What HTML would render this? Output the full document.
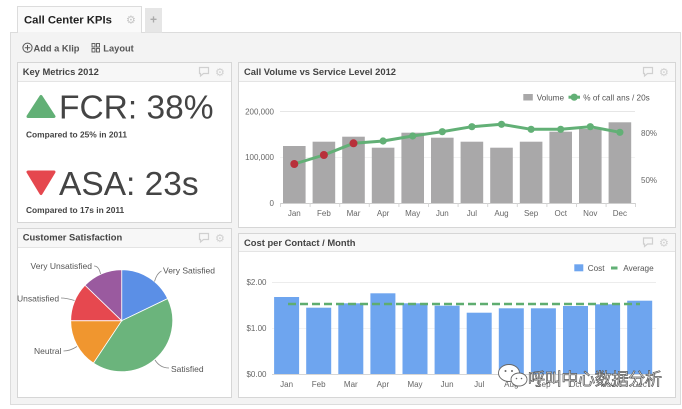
<!DOCTYPE html>
<html>
<head>
<meta charset="utf-8">
<style>
html,body{margin:0;padding:0;background:#fff;}
svg{display:block;}
text{font-family:"Liberation Sans",sans-serif;}
</style>
</head>
<body>
<svg width="682" height="409" viewBox="0 0 682 409" xmlns="http://www.w3.org/2000/svg">
  <rect x="0" y="0" width="682" height="409" fill="#ffffff"/>
  <!-- container -->
  <rect x="10.5" y="32.5" width="670" height="372" fill="#f3f3f3" stroke="#dcdcdc"/>
  <!-- tab -->
  <path d="M17.5 33 V6.5 H141.5 V33" fill="#fafafa" stroke="#dcdcdc"/>
  <rect x="18" y="32" width="123" height="2" fill="#f3f3f3"/>
  <text x="24" y="23.3" font-size="11.3" font-weight="bold" fill="#222">Call Center KPIs</text>
  <text x="126" y="23.5" font-size="11" fill="#c4c4c4" style="font-family:'DejaVu Sans',sans-serif">⚙</text>
  <rect x="145" y="8" width="17" height="24.5" fill="#e6e6e6"/>
  <text x="153.5" y="23.5" font-size="12" fill="#aaa" text-anchor="middle" font-weight="bold">+</text>

  <!-- toolbar -->
  <circle cx="27.5" cy="47.7" r="4.6" fill="none" stroke="#555" stroke-width="1"/>
  <path d="M27.5 45 V50.4 M24.8 47.7 H30.2" stroke="#555" stroke-width="1"/>
  <text x="33.5" y="51.5" font-size="9.3" font-weight="bold" fill="#555">Add a Klip</text>
  <g fill="none" stroke="#555" stroke-width="0.9">
    <rect x="92" y="43.5" width="3" height="3.5"/><rect x="96.5" y="43.5" width="3" height="3.5"/>
    <rect x="92" y="48.5" width="3" height="3.5"/><rect x="96.5" y="48.5" width="3" height="3.5"/>
  </g>
  <text x="103.3" y="51.5" font-size="9.3" font-weight="bold" fill="#555">Layout</text>

  <!-- ===== Panel: Key Metrics ===== -->
  <rect x="17.5" y="62.5" width="214" height="160" fill="#fff" stroke="#d6d6d6"/>
  <rect x="18" y="63" width="213" height="18" fill="#f7f7f7"/>
  <line x1="18" y1="81.5" x2="231" y2="81.5" stroke="#e4e4e4"/>
  <text x="22.7" y="75" font-size="9.4" font-weight="bold" fill="#444">Key Metrics 2012</text>
  <g fill="none" stroke="#d0d0d0" stroke-width="1.2">
    <path d="M199.5 67.5 h9 v6 h-5 l-3 2.5 v-2.5 h-1 z"/>
  </g>
  <text x="215" y="76" font-size="11" fill="#d0d0d0" style="font-family:'DejaVu Sans',sans-serif">⚙</text>

  <polygon points="41,96.5 54,116.5 28,116.5" fill="#62b076" stroke="#62b076" stroke-width="3" stroke-linejoin="round"/>
  <text x="59" y="118.5" font-size="33.5" fill="#444">FCR: 38%</text>
  <text x="26" y="137.5" font-size="8.4" font-weight="bold" fill="#444">Compared to 25% in 2011</text>

  <polygon points="28,172 54,172 41,193.5" fill="#e5474e" stroke="#e5474e" stroke-width="3" stroke-linejoin="round"/>
  <text x="59" y="195" font-size="33.5" fill="#444">ASA: 23s</text>
  <text x="26" y="213" font-size="8.4" font-weight="bold" fill="#444">Compared to 17s in 2011</text>

  <!-- ===== Panel: Customer Satisfaction ===== -->
  <rect x="17.5" y="228.5" width="214" height="169" fill="#fff" stroke="#d6d6d6"/>
  <rect x="18" y="229" width="213" height="18" fill="#f7f7f7"/>
  <line x1="18" y1="247.5" x2="231" y2="247.5" stroke="#e4e4e4"/>
  <text x="22.7" y="240.5" font-size="9.4" font-weight="bold" fill="#444">Customer Satisfaction</text>
  <g fill="none" stroke="#d0d0d0" stroke-width="1.2">
    <path d="M199.5 233.5 h9 v6 h-5 l-3 2.5 v-2.5 h-1 z"/>
  </g>
  <text x="215" y="242" font-size="11" fill="#d0d0d0" style="font-family:'DejaVu Sans',sans-serif">⚙</text>

  <g stroke="#fff" stroke-width="0.8">
    <path d="M121.7 320.7 L121.7 269.7 A51 51 0 0 1 167.66 298.58 Z" fill="#5b8fe6"/>
    <path d="M121.7 320.7 L167.66 298.58 A51 51 0 0 1 93.41 363.13 Z" fill="#6bb47c"/>
    <path d="M121.7 320.7 L93.41 363.13 A51 51 0 0 1 70.7 320.7 Z" fill="#f0962f"/>
    <path d="M121.7 320.7 L70.7 320.7 A51 51 0 0 1 85.01 285.27 Z" fill="#e6484f"/>
    <path d="M121.7 320.7 L85.01 285.27 A51 51 0 0 1 121.7 269.7 Z" fill="#9a5a9f"/>
  </g>
  <g fill="none" stroke="#888" stroke-width="0.8">
    <path d="M154.5 281.5 Q157 273 161.5 271"/>
    <path d="M94 266 Q99 266 100.5 274"/>
    <path d="M61 298 Q66 298 74.5 300.5"/>
    <path d="M63.5 351 Q70 351 77 346.5"/>
    <path d="M155 360 Q160 368 169 368"/>
  </g>
  <g font-size="8.5" fill="#555">
    <text x="163" y="273.5">Very Satisfied</text>
    <text x="30.5" y="269">Very Unsatisfied</text>
    <text x="17" y="301.5">Unsatisfied</text>
    <text x="34" y="354">Neutral</text>
    <text x="171" y="372">Satisfied</text>
  </g>

  <!-- ===== Panel: Call Volume ===== -->
  <rect x="238.5" y="62.5" width="437" height="165" fill="#fff" stroke="#d6d6d6"/>
  <rect x="239" y="63" width="436" height="18" fill="#f7f7f7"/>
  <line x1="239" y1="81.5" x2="675" y2="81.5" stroke="#e4e4e4"/>
  <text x="244" y="75" font-size="9.4" font-weight="bold" fill="#444">Call Volume vs Service Level 2012</text>
  <g fill="none" stroke="#d0d0d0" stroke-width="1.2">
    <path d="M643.5 67.5 h9 v6 h-5 l-3 2.5 v-2.5 h-1 z"/>
  </g>
  <text x="659" y="76" font-size="11" fill="#d0d0d0" style="font-family:'DejaVu Sans',sans-serif">⚙</text>

  <!-- legend -->
  <rect x="523.3" y="94" width="9.5" height="6.5" fill="#a9a8a9"/>
  <text x="536.7" y="100.3" font-size="8.2" fill="#555">Volume</text>
  <line x1="568.5" y1="97.2" x2="580" y2="97.2" stroke="#62b076" stroke-width="3"/>
  <circle cx="574.2" cy="97.2" r="3.6" fill="#62b076"/>
  <text x="583.3" y="100.3" font-size="8.2" fill="#555">% of call ans / 20s</text>

  <!-- grid / axes -->
  <line x1="280" y1="111.5" x2="635" y2="111.5" stroke="#e6e6e6"/>
  <line x1="280" y1="157.5" x2="635" y2="157.5" stroke="#f3f3f3"/>
  <line x1="280" y1="203.5" x2="635" y2="203.5" stroke="#cfcfcf"/>
  <g stroke="#d6d6d6">
    <line x1="280.5" y1="203" x2="280.5" y2="207"/><line x1="310.1" y1="203" x2="310.1" y2="207"/>
    <line x1="339.7" y1="203" x2="339.7" y2="207"/><line x1="369.3" y1="203" x2="369.3" y2="207"/>
    <line x1="398.9" y1="203" x2="398.9" y2="207"/><line x1="428.5" y1="203" x2="428.5" y2="207"/>
    <line x1="458.1" y1="203" x2="458.1" y2="207"/><line x1="487.7" y1="203" x2="487.7" y2="207"/>
    <line x1="517.3" y1="203" x2="517.3" y2="207"/><line x1="546.9" y1="203" x2="546.9" y2="207"/>
    <line x1="576.5" y1="203" x2="576.5" y2="207"/><line x1="606.1" y1="203" x2="606.1" y2="207"/>
    <line x1="635.5" y1="203" x2="635.5" y2="207"/>
  </g>
  <g font-size="8" fill="#666" text-anchor="end">
    <text x="274" y="114.5">200,000</text>
    <text x="274" y="160">100,000</text>
    <text x="274" y="206">0</text>
  </g>
  <g font-size="8" fill="#666">
    <text x="641" y="136">80%</text>
    <text x="641" y="183">50%</text>
  </g>
  <!-- bars -->
  <g fill="#a9a8a9">
    <rect x="283" y="146" width="22.6" height="57"/>
    <rect x="312.6" y="141.7" width="22.6" height="61.3"/>
    <rect x="342.2" y="136.7" width="22.6" height="66.3"/>
    <rect x="371.8" y="147.7" width="22.6" height="55.3"/>
    <rect x="401.4" y="132.7" width="22.6" height="70.3"/>
    <rect x="431" y="137.7" width="22.6" height="65.3"/>
    <rect x="460.6" y="141.7" width="22.6" height="61.3"/>
    <rect x="490.2" y="147.7" width="22.6" height="55.3"/>
    <rect x="519.8" y="141.7" width="22.6" height="61.3"/>
    <rect x="549.4" y="131.7" width="22.6" height="71.3"/>
    <rect x="579" y="129" width="22.6" height="74"/>
    <rect x="608.6" y="122.3" width="22.6" height="80.7"/>
  </g>
  <!-- line -->
  <polyline points="294.3,164 323.9,155 353.5,143.3 383.1,141 412.7,136 442.3,131.7 471.9,126.7 501.5,124.3 531.1,129.3 560.7,129.3 590.3,126.7 619.9,132.3" fill="none" stroke="#62b076" stroke-width="3" stroke-linejoin="round"/>
  <g fill="#62b076">
    <circle cx="383.1" cy="141" r="3.6"/><circle cx="412.7" cy="136" r="3.6"/>
    <circle cx="442.3" cy="131.7" r="3.6"/><circle cx="471.9" cy="126.7" r="3.6"/>
    <circle cx="501.5" cy="124.3" r="3.6"/><circle cx="531.1" cy="129.3" r="3.6"/>
    <circle cx="560.7" cy="129.3" r="3.6"/><circle cx="590.3" cy="126.7" r="3.6"/>
    <circle cx="619.9" cy="132.3" r="3.6"/>
  </g>
  <g fill="#b8313b">
    <circle cx="294.3" cy="164" r="4"/><circle cx="323.9" cy="155" r="4"/><circle cx="353.5" cy="143.3" r="4"/>
  </g>
  <g font-size="8" fill="#666" text-anchor="middle">
    <text x="294.3" y="216">Jan</text><text x="323.9" y="216">Feb</text><text x="353.5" y="216">Mar</text>
    <text x="383.1" y="216">Apr</text><text x="412.7" y="216">May</text><text x="442.3" y="216">Jun</text>
    <text x="471.9" y="216">Jul</text><text x="501.5" y="216">Aug</text><text x="531.1" y="216">Sep</text>
    <text x="560.7" y="216">Oct</text><text x="590.3" y="216">Nov</text><text x="619.9" y="216">Dec</text>
  </g>

  <!-- ===== Panel: Cost per Contact ===== -->
  <rect x="238.5" y="233.5" width="437" height="164" fill="#fff" stroke="#d6d6d6"/>
  <rect x="239" y="234" width="436" height="17" fill="#f7f7f7"/>
  <line x1="239" y1="251.5" x2="675" y2="251.5" stroke="#e4e4e4"/>
  <text x="244" y="246" font-size="9.4" font-weight="bold" fill="#444">Cost per Contact / Month</text>
  <g fill="none" stroke="#d0d0d0" stroke-width="1.2">
    <path d="M643.5 238 h9 v6 h-5 l-3 2.5 v-2.5 h-1 z"/>
  </g>
  <text x="659" y="246.5" font-size="11" fill="#d0d0d0" style="font-family:'DejaVu Sans',sans-serif">⚙</text>

  <rect x="574.3" y="264.3" width="9" height="7" fill="#6ea5ef"/>
  <text x="587.7" y="271" font-size="8.2" fill="#555">Cost</text>
  <line x1="611" y1="268" x2="617.5" y2="268" stroke="#62b076" stroke-width="3"/>
  <text x="623.3" y="271" font-size="8.2" fill="#555">Average</text>

  <line x1="272" y1="282.5" x2="656" y2="282.5" stroke="#ececec"/>
  <line x1="272" y1="328.5" x2="656" y2="328.5" stroke="#f3f3f3"/>
  <line x1="272" y1="374.5" x2="656" y2="374.5" stroke="#d6d6d6"/>
  <g font-size="8" fill="#666" text-anchor="end">
    <text x="266.5" y="285">$2.00</text>
    <text x="266.5" y="331">$1.00</text>
    <text x="266.5" y="377">$0.00</text>
  </g>
  <g fill="#6ea5ef">
    <rect x="274.1" y="297" width="25" height="77"/>
    <rect x="306.2" y="307.7" width="25" height="66.3"/>
    <rect x="338.3" y="303.3" width="25" height="70.7"/>
    <rect x="370.4" y="293.3" width="25" height="80.7"/>
    <rect x="402.5" y="303.3" width="25" height="70.7"/>
    <rect x="434.6" y="305.7" width="25" height="68.3"/>
    <rect x="466.7" y="312.7" width="25" height="61.3"/>
    <rect x="498.8" y="308.3" width="25" height="65.7"/>
    <rect x="530.9" y="308.3" width="25" height="65.7"/>
    <rect x="563" y="306" width="25" height="68"/>
    <rect x="595.1" y="304.3" width="25" height="69.7"/>
    <rect x="627.2" y="300.7" width="25" height="73.3"/>
  </g>
  <line x1="288" y1="304" x2="640" y2="304" stroke="#5fad70" stroke-width="2.6" stroke-dasharray="8,4"/>
  <g font-size="8" fill="#666" text-anchor="middle">
    <text x="286.6" y="387">Jan</text><text x="318.7" y="387">Feb</text><text x="350.8" y="387">Mar</text>
    <text x="382.9" y="387">Apr</text><text x="415" y="387">May</text><text x="447.1" y="387">Jun</text>
    <text x="479.2" y="387">Jul</text><text x="511.3" y="387">Aug</text><text x="543.4" y="387">Sep</text>
    <text x="575.5" y="387">Oct</text><text x="607.6" y="387">Nov</text><text x="639.7" y="387">Dec</text>
  </g>

  <!-- watermark -->
  <g fill="#fff" stroke="#666" stroke-width="0.9">
    <ellipse cx="509" cy="373" rx="10.5" ry="8.5"/>
    <ellipse cx="519" cy="379.5" rx="8" ry="6.5"/>
  </g>
  <g fill="#666">
    <circle cx="505.5" cy="371" r="1"/><circle cx="512" cy="371" r="1"/>
    <circle cx="516.5" cy="378.5" r="0.8"/><circle cx="521.5" cy="378.5" r="0.8"/>
  </g>
  <text x="528" y="385" font-size="17" fill="#ffffff" stroke="#555" stroke-width="0.7" textLength="134" style="font-family:'Liberation Sans','Noto Sans CJK SC',sans-serif">呼叫中心数据分析</text>
</svg>
</body>
</html>
